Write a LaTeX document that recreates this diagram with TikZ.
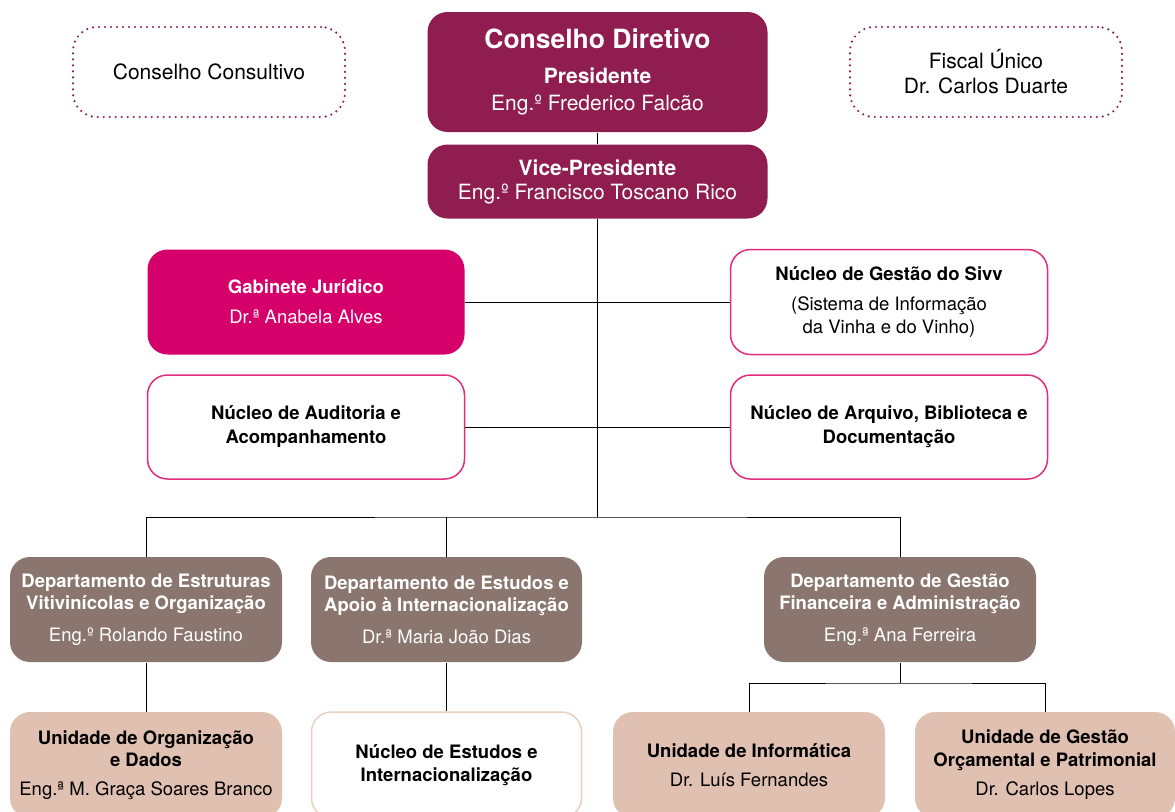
\documentclass[tikz,border=0pt]{standalone}
\usepackage{fontspec}
\setmainfont{TeX Gyre Heros}
\definecolor{vinho}{RGB}{143,29,80}
\definecolor{rosa}{RGB}{214,0,107}
\definecolor{rosaborda}{RGB}{226,45,125}
\definecolor{taupe}{RGB}{138,118,110}
\definecolor{areia}{RGB}{224,192,176}
\definecolor{areiaborda}{RGB}{234,208,194}
\newcommand\ftitulo{\fontsize{26.5}{30}\selectfont\bfseries}
\newcommand\fgrande{\fontsize{21}{24}\selectfont}
\newcommand\fmedia{\fontsize{18.5}{22}\selectfont}
\begin{document}
\begin{tikzpicture}[x=1pt,y=-1pt,line width=1pt,
    caixa/.style={rounded corners=20pt,inner sep=0pt,align=center,font=\fmedia},
    pontilhada/.style={caixa,draw=vinho,line width=2.4pt,line cap=round,
      dash pattern=on 0pt off 6pt,rounded corners=24pt,font=\fgrande,
      minimum width=272pt,minimum height=90pt},
    direcao/.style={caixa,fill=vinho,text=white,font=\fgrande,minimum width=340pt},
    nucleo/.style={caixa,draw=rosaborda,line width=1.5pt,fill=white,
      minimum width=317pt,minimum height=104pt},
    depto/.style={caixa,fill=taupe,text=white,minimum width=272pt,minimum height=105pt},
    unidade/.style={caixa,fill=areia,minimum width=272pt,minimum height=106pt}]
  \useasboundingbox (0,0) rectangle (1175,811);
  \clip (0,0) rectangle (1175,811);

  % topo
  \node[pontilhada] (cc) at (209,72) {Conselho Consultivo};
  \node[direcao,minimum height=120pt] (cd) at (597.5,72)
    {\ftitulo Conselho Diretivo\\[11pt]\textbf{Presidente}\\[3pt]Eng.º Frederico Falcão};
  \node[pontilhada] (fu) at (986,72) {Fiscal Único\\[1pt]Dr. Carlos Duarte};
  \node[direcao,minimum height=74pt] (vp) at (597.5,181.5)
    {\textbf{Vice-Presidente}\\Eng.º Francisco Toscano Rico};

  % gabinete e nucleos
  \node[caixa,fill=rosa,text=white,minimum width=317pt,minimum height=105pt] (gj) at (306,302)
    {\textbf{Gabinete Jurídico}\\[8pt]Dr.ª Anabela Alves};
  \node[nucleo,minimum height=105pt] (sivv) at (889,302)
    {\textbf{Núcleo de Gestão do Sivv}\\[8pt](Sistema de Informação\\[2pt]da Vinha e do Vinho)};
  \node[nucleo] (aud) at (306,427) {\textbf{Núcleo de Auditoria e}\\[2pt]\textbf{Acompanhamento}};
  \node[nucleo] (arq) at (889,427) {\textbf{Núcleo de Arquivo, Biblioteca e}\\[2pt]\textbf{Documentação}};

  % departamentos
  \node[depto] (d1) at (146,609.5)
    {\textbf{Departamento de Estruturas}\\\textbf{Vitivinícolas e Organização}\\[10pt]Eng.º Rolando Faustino};
  \node[depto,minimum width=271pt] (d2) at (446.5,609.5)
    {\textbf{Departamento de Estudos e}\\\textbf{Apoio à Internacionalização}\\[10pt]Dr.ª Maria João Dias};
  \node[depto] (d3) at (900,609.5)
    {\textbf{Departamento de Gestão}\\\textbf{Financeira e Administração}\\[10pt]Eng.ª Ana Ferreira};

  % unidades
  \node[unidade] (u1) at (146,765)
    {\textbf{Unidade de Organização}\\\textbf{e Dados}\\[7pt]Eng.ª M. Graça Soares Branco};
  \node[caixa,draw=areiaborda,line width=1.5pt,fill=white,minimum width=270pt,minimum height=106pt] (ne) at (446.5,765)
    {\textbf{Núcleo de Estudos e}\\[1pt]\textbf{Internacionalização}};
  \node[unidade] (ui) at (749,765)
    {\textbf{Unidade de Informática}\\[7pt]Dr. Luís Fernandes};
  \node[unidade,minimum width=260pt] (ug) at (1045,765)
    {\textbf{Unidade de Gestão}\\[1pt]\textbf{Orçamental e Patrimonial}\\[7pt]Dr. Carlos Lopes};

  % ligacoes
  \coordinate (bus) at (597.5,517);
  \coordinate (bus3) at (900,683);
  \draw (cd) -- (vp);
  \draw (vp) -- (bus);
  \draw (gj) -- (sivv);
  \draw (aud) -- (arq);
  \draw (d1.north) |- (bus) -| (d3.north);
  \draw (d2.north) -- (d2.north |- bus);
  \draw (d1) -- (u1);
  \draw (d2) -- (ne);
  \draw (d3) -- (bus3);
  \draw (ui.north) |- (bus3) -| (ug.north);
\end{tikzpicture}
\end{document}
